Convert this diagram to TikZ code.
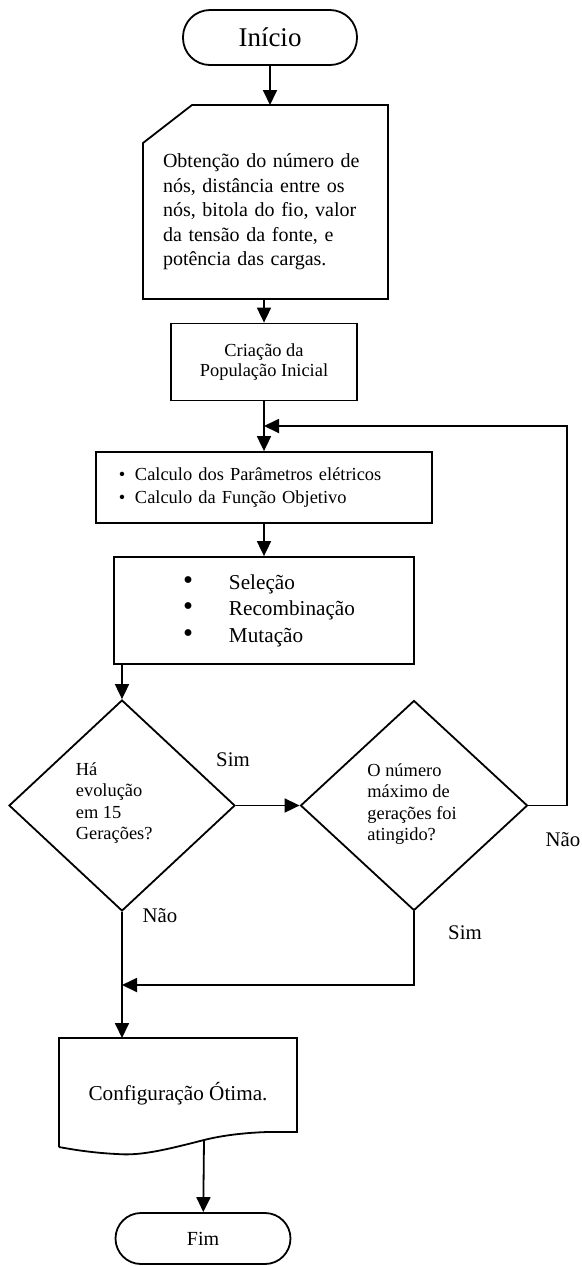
\documentclass[tikz,border=0pt]{standalone}
\usepackage{fontspec}
\setmainfont{Liberation Serif}
\usetikzlibrary{arrows.meta,shapes.geometric}

\newcommand{\jline}[1]{\makebox[102.5pt][s]{#1}}
\newcommand{\bigbul}{\makebox[23pt][l]{\scalebox{1.35}{\textbullet}}}

\tikzset{
  flow/.style={draw, line width=0.9pt},
  term/.style={flow, rounded corners=13.5pt, minimum width=87pt, minimum height=27.5pt, inner sep=0pt},
  procbox/.style={flow, inner sep=0pt, align=center},
  decis/.style={flow, diamond, inner sep=0pt},
  dtext/.style={anchor=west, align=left, inner sep=0pt, font=\fontsize{9.2}{10.6}\selectfont},
  lbl/.style={inner sep=0pt, font=\fontsize{10.4}{12}\selectfont},
  arr/.style={-{Triangle[length=7.5pt,width=7pt]}, line width=0.9pt},
}

\begin{document}
\begin{tikzpicture}[x=0.5pt,y=-0.5pt]
  \useasboundingbox (0,0) rectangle (582,1266);

  % inicio
  \node[term, font=\fontsize{13.5}{16}\selectfont] (ini) at (270,37.5) {Início};

  % entrada manual
  \coordinate (mtop) at (270,105);
  \coordinate (mbot) at (264,299);
  \draw[flow] (143,143) -- (192,105) -- (388,105) -- (388,299) -- (143,299) -- cycle;
  \node[text width=102.5pt, align=left, inner sep=0pt, font=\fontsize{10}{12.25}\selectfont] (mtxt) at (265.5,212)
    {\jline{Obtenção do número de}\\ \jline{nós, distância entre os}\\ \jline{nós, bitola do fio, valor}\\ \jline{da tensão da fonte, e}\\ potência das cargas.};

  % populacao inicial
  \node[procbox, minimum width=93pt, minimum height=38.5pt, font=\fontsize{9.2}{9.8}\selectfont] (crea) at (264,362)
    {Criação da\\População Inicial};

  % calculo
  \node[procbox, align=left, text width=145pt, inner xsep=11.5pt, minimum height=35.5pt,
        font=\fontsize{9.2}{11.5}\selectfont] (calc) at (264,487.5)
    {\makebox[8pt][l]{\textbullet}Calculo dos Parâmetros elétricos\\
     \makebox[8pt][l]{\textbullet}Calculo da Função Objetivo};

  % operadores
  \node[procbox, align=left, text width=81pt, inner xsep=34.5pt, minimum height=53.5pt,
        font=\fontsize{10.6}{13.25}\selectfont] (sel) at (264,610.5)
    {\bigbul Seleção\\
     \bigbul Recombinação\\
     \bigbul Mutação};

  % decisoes
  \node[decis, minimum width=113pt, minimum height=105.5pt] (d1) at (122,805.5) {};
  \node[dtext] (d1txt) at (75.5,803) {Há\\evolução\\em 15\\Gerações?};
  \node[decis, minimum width=113.5pt, minimum height=105pt] (d2) at (414,805.5) {};
  \node[dtext] (d2txt) at (367,804) {O número\\máximo de\\gerações foi\\atingido?};

  % documento
  \coordinate (dtop) at (122,1038);
  \coordinate (dout) at (204,1140);
  \draw[flow] (59,1147) -- (59,1038) -- (297,1038) -- (297,1132) -- (267,1132)
    .. controls (240,1133) and (220,1136) .. (dout)
    .. controls (165,1150) and (140,1156) .. (117,1154)
    .. controls (95,1153) and (75,1150) .. (59,1147);
  \node[font=\fontsize{10.6}{12}\selectfont, inner sep=0pt] (dtxt) at (178,1094) {Configuração Ótima.};

  % fim
  \node[term, minimum width=87.5pt, minimum height=25.5pt, rounded corners=12.75pt,
        font=\fontsize{10}{12}\selectfont] (fim) at (203,1238.5) {Fim};

  % ligacoes
  \coordinate (join1) at (264,426);
  \coordinate (loopR) at (567,805.5);
  \coordinate (loopT) at (567,426);
  \coordinate (join2) at (122,985);

  \draw[arr] (ini) -- (mtop);
  \draw[arr] (mbot) -- (crea);
  \draw[arr] (crea) -- (calc);
  \draw[arr] (d2.east) -- (loopR) -- (loopT) -- (join1);
  \draw[arr] (calc) -- (sel);
  \draw[arr] (sel.south -| d1.north) -- (d1.north);
  \draw[arr] (d1.east) -- (d2.west);
  \draw[arr] (d1.south) -- (dtop);
  \draw[arr] (d2.south) -- (d2.south |- join2) -- (join2);
  \draw[arr] (dout) -- (fim);

  % rotulos
  \node[lbl] (sim1) at (233,760) {Sim};
  \node[lbl] (nao1) at (160,916) {Não};
  \node[lbl] (nao2) at (563,840) {Não};
  \node[lbl] (sim2) at (465,933) {Sim};
\end{tikzpicture}
\end{document}
